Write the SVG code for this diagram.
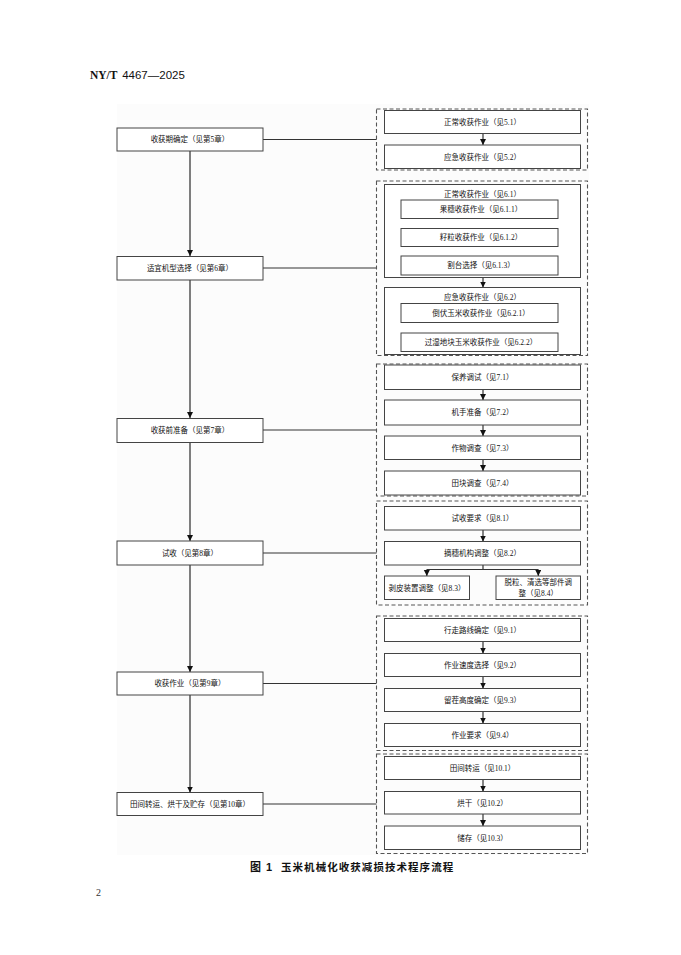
<svg xmlns="http://www.w3.org/2000/svg" width="681" height="955" viewBox="0 0 681 955">
<defs>
<style>
.bg{fill:#fcfcfc}
.box{fill:#fff;stroke:#444;stroke-width:1}
.panel{fill:none;stroke:#555;stroke-width:1.1;stroke-dasharray:4 2.5}
.t{font-family:"Liberation Serif","Noto Sans CJK SC",serif;font-size:7.5px;fill:#111;text-anchor:middle;dominant-baseline:central}
.ln{fill:none;stroke:#333;stroke-width:1.2}
.lv{fill:none;stroke:#555;stroke-width:1.5}
</style>
<marker id="ah" markerUnits="userSpaceOnUse" markerWidth="7" markerHeight="7" refX="6" refY="3" orient="auto">
<path d="M0,0 L6,3 L0,6 z" fill="#111"/>
</marker>
</defs>
<rect width="681" height="955" fill="#fff"/>
<rect class="bg" x="117" y="104" width="472" height="751"/>
<text x="90" y="79" font-family="Liberation Serif,Noto Sans CJK SC,serif" font-size="11.5" font-weight="bold" fill="#111">NY/T <tspan dx="2" font-family="Liberation Sans,sans-serif" font-weight="normal">4467—2025</tspan></text>

<g id="connectors">
<line class="lv" x1="190" y1="151" x2="190" y2="256" marker-end="url(#ah)"/>
<line class="lv" x1="190" y1="280" x2="190" y2="418" marker-end="url(#ah)"/>
<line class="lv" x1="190" y1="443" x2="190" y2="541" marker-end="url(#ah)"/>
<line class="lv" x1="190" y1="565" x2="190" y2="672" marker-end="url(#ah)"/>
<line class="lv" x1="190" y1="695" x2="190" y2="792.5" marker-end="url(#ah)"/>
<line class="ln" x1="263" y1="139.5" x2="376.5" y2="139.5"/>
<line class="ln" x1="263" y1="268" x2="376.5" y2="268"/>
<line class="ln" x1="263" y1="430" x2="376.5" y2="430"/>
<line class="ln" x1="263" y1="553" x2="376.5" y2="553"/>
<line class="ln" x1="263" y1="683.5" x2="376.5" y2="683.5"/>
<line class="ln" x1="263" y1="804" x2="376.5" y2="804"/>
<line class="ln" x1="483" y1="133.5" x2="483" y2="145" marker-end="url(#ah)"/>
<line class="ln" x1="483" y1="218.5" x2="483" y2="228.5" marker-end="url(#ah)"/>
<line class="ln" x1="483" y1="246.5" x2="483" y2="256" marker-end="url(#ah)"/>
<line class="ln" x1="483" y1="277.5" x2="483" y2="287.5" marker-end="url(#ah)"/>
<line class="ln" x1="483" y1="322.5" x2="483" y2="333" marker-end="url(#ah)"/>
<line class="ln" x1="483" y1="389.5" x2="483" y2="400" marker-end="url(#ah)"/>
<line class="ln" x1="483" y1="425" x2="483" y2="436" marker-end="url(#ah)"/>
<line class="ln" x1="483" y1="459.5" x2="483" y2="471" marker-end="url(#ah)"/>
<line class="ln" x1="483" y1="530" x2="483" y2="541.5" marker-end="url(#ah)"/>
<path class="ln" d="M483,565 V569.5 M426.8,569.5 H538.3"/>
<line class="ln" x1="426.8" y1="569.5" x2="426.8" y2="576" marker-end="url(#ah)"/>
<line class="ln" x1="538.3" y1="569.5" x2="538.3" y2="576" marker-end="url(#ah)"/>
<line class="ln" x1="483" y1="641.5" x2="483" y2="653.5" marker-end="url(#ah)"/>
<line class="ln" x1="483" y1="676.5" x2="483" y2="688.5" marker-end="url(#ah)"/>
<line class="ln" x1="483" y1="711.5" x2="483" y2="723.5" marker-end="url(#ah)"/>
<line class="ln" x1="483" y1="779.5" x2="483" y2="791.5" marker-end="url(#ah)"/>
<line class="ln" x1="483" y1="814" x2="483" y2="826" marker-end="url(#ah)"/>
</g>

<g id="left-nodes">
<g id="n-ch5"><rect class="box" x="117" y="128" width="146" height="23"/><text class="t" x="190" y="139.5">收获期确定（见第5章）</text></g>
<g id="n-ch6"><rect class="box" x="117" y="256.5" width="146" height="23.5"/><text class="t" x="190" y="268">适宜机型选择（见第6章）</text></g>
<g id="n-ch7"><rect class="box" x="117" y="418.5" width="146" height="24"/><text class="t" x="190" y="430.5">收获前准备（见第7章）</text></g>
<g id="n-ch8"><rect class="box" x="117" y="541" width="146" height="24"/><text class="t" x="190" y="553">试收（见第8章）</text></g>
<g id="n-ch9"><rect class="box" x="117" y="672" width="146" height="23"/><text class="t" x="190" y="683.5">收获作业（见第9章）</text></g>
<g id="n-ch10"><rect class="box" x="117" y="792.5" width="146" height="23"/><text class="t" x="190" y="804">田间转运、烘干及贮存（见第10章）</text></g>
</g>

<g id="panel-5">
<rect class="panel" x="376.5" y="109" width="211" height="61"/>
<g id="n-5-1"><rect class="box" x="384.5" y="110.5" width="196" height="23"/><text class="t" x="482.5" y="122">正常收获作业（见5.1）</text></g>
<g id="n-5-2"><rect class="box" x="384.5" y="145" width="196" height="23.5"/><text class="t" x="482.5" y="157">应急收获作业（见5.2）</text></g>
</g>

<g id="panel-6">
<rect class="panel" x="376.5" y="181" width="211" height="174.5"/>
<g id="n-6-1"><rect class="box" x="384.5" y="184.5" width="196" height="93"/><text class="t" x="482.5" y="194">正常收获作业（见6.1）</text></g>
<g id="n-6-1-1"><rect class="box" x="401" y="200" width="157" height="18.5"/><text class="t" x="481" y="209.5">果穗收获作业（见6.1.1）</text></g>
<g id="n-6-1-2"><rect class="box" x="401" y="228.5" width="157" height="18"/><text class="t" x="481" y="237.5">籽粒收获作业（见6.1.2）</text></g>
<g id="n-6-1-3"><rect class="box" x="401" y="256" width="157" height="19"/><text class="t" x="481" y="265.5">割台选择（见6.1.3）</text></g>
<g id="n-6-2"><rect class="box" x="384.5" y="287.5" width="196" height="67"/><text class="t" x="482.5" y="297.5">应急收获作业（见6.2）</text></g>
<g id="n-6-2-1"><rect class="box" x="401" y="303.5" width="157" height="19"/><text class="t" x="481" y="313">倒伏玉米收获作业（见6.2.1）</text></g>
<g id="n-6-2-2"><rect class="box" x="401" y="333" width="157" height="18.5"/><text class="t" x="481" y="342.5">过湿地块玉米收获作业（见6.2.2）</text></g>
</g>

<g id="panel-7">
<rect class="panel" x="376.5" y="364" width="211" height="132"/>
<g id="n-7-1"><rect class="box" x="384.5" y="365" width="196" height="24.5"/><text class="t" x="482.5" y="377.5">保养调试（见7.1）</text></g>
<g id="n-7-2"><rect class="box" x="384.5" y="400" width="196" height="25"/><text class="t" x="482.5" y="412.5">机手准备（见7.2）</text></g>
<g id="n-7-3"><rect class="box" x="384.5" y="436" width="196" height="23.5"/><text class="t" x="482.5" y="448">作物调查（见7.3）</text></g>
<g id="n-7-4"><rect class="box" x="384.5" y="471" width="196" height="24"/><text class="t" x="482.5" y="483">田块调查（见7.4）</text></g>
</g>

<g id="panel-8">
<rect class="panel" x="376.5" y="501" width="211" height="104"/>
<g id="n-8-1"><rect class="box" x="384.5" y="506.5" width="196" height="23.5"/><text class="t" x="482.5" y="518.5">试收要求（见8.1）</text></g>
<g id="n-8-2"><rect class="box" x="384.5" y="541.5" width="196" height="23.5"/><text class="t" x="482.5" y="553.5">摘穗机构调整（见8.2）</text></g>
<g id="n-8-3"><rect class="box" x="384.5" y="576" width="85" height="23.5"/><text class="t" x="427" y="588">剥皮装置调整（见8.3）</text></g>
<g id="n-8-4"><rect class="box" x="496" y="576" width="84.5" height="23.5"/><text class="t" x="538.3" y="582">脱粒、清选等部件调</text><text class="t" x="538.3" y="593.5">整（见8.4）</text></g>
</g>

<g id="panel-9">
<rect class="panel" x="376.5" y="616" width="211" height="134.5"/>
<g id="n-9-1"><rect class="box" x="384.5" y="618.5" width="196" height="23"/><text class="t" x="482.5" y="630">行走路线确定（见9.1）</text></g>
<g id="n-9-2"><rect class="box" x="384.5" y="653.5" width="196" height="23"/><text class="t" x="482.5" y="665">作业速度选择（见9.2）</text></g>
<g id="n-9-3"><rect class="box" x="384.5" y="688.5" width="196" height="23"/><text class="t" x="482.5" y="700">留茬高度确定（见9.3）</text></g>
<g id="n-9-4"><rect class="box" x="384.5" y="723.5" width="196" height="23"/><text class="t" x="482.5" y="735">作业要求（见9.4）</text></g>
</g>

<g id="panel-10">
<rect class="panel" x="376.5" y="754" width="211" height="99.5"/>
<g id="n-10-1"><rect class="box" x="384.5" y="756.5" width="196" height="23"/><text class="t" x="482.5" y="768">田间转运（见10.1）</text></g>
<g id="n-10-2"><rect class="box" x="384.5" y="791.5" width="196" height="22.5"/><text class="t" x="482.5" y="803">烘干（见10.2）</text></g>
<g id="n-10-3"><rect class="box" x="384.5" y="826" width="196" height="23.5"/><text class="t" x="482.5" y="838">储存（见10.3）</text></g>
</g>

<text x="250" y="871" font-family="Liberation Sans,Noto Sans CJK SC,sans-serif" font-size="11" font-weight="bold" fill="#111" letter-spacing="1">图 1</text>
<text x="281" y="871" font-family="Liberation Sans,Noto Sans CJK SC,sans-serif" font-size="10.5" font-weight="bold" fill="#111" letter-spacing="1.05">玉米机械化收获减损技术程序流程</text>
<text x="96" y="896" font-family="Liberation Serif,serif" font-size="10" fill="#333">2</text>
</svg>
